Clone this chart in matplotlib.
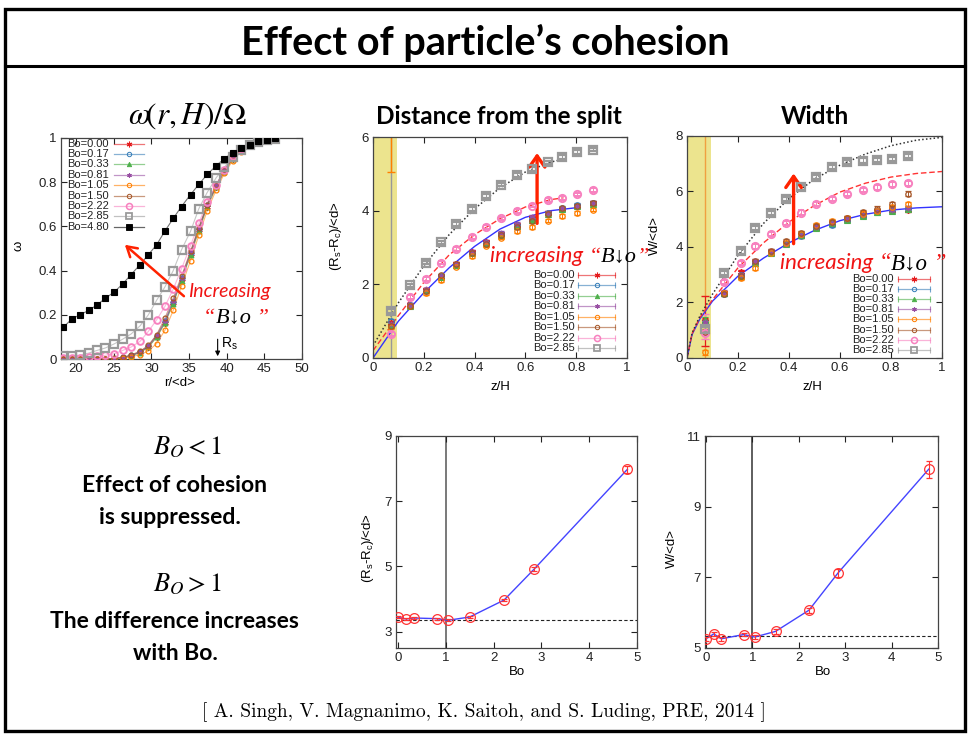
import matplotlib
matplotlib.use('Agg')
import matplotlib.pyplot as plt
from matplotlib.patches import Rectangle

W, H = 968, 735

plt.rcParams['font.family'] = ['Liberation Sans', 'DejaVu Sans']
plt.rcParams['mathtext.fontset'] = 'custom'
plt.rcParams['mathtext.rm'] = 'Liberation Sans'
plt.rcParams['mathtext.it'] = 'Liberation Sans:italic'

# ---- data ----
bo_labels = ['Bo=0.00', 'Bo=0.17', 'Bo=0.33', 'Bo=0.81', 'Bo=1.05',
             'Bo=1.50', 'Bo=2.22', 'Bo=2.85', 'Bo=4.80']

# angular velocity profile omega(r,H)/Omega
r_pos = [18.3, 19.4, 20.5, 21.7, 22.8, 23.9, 25.1, 26.2, 27.3, 28.5, 29.6, 30.7, 31.8,
         32.9, 34.0, 35.2, 36.3, 37.4, 38.6, 39.7, 40.8, 41.9, 43.1, 44.2, 45.3, 46.4]
omega_000 = [0, 0, 0, 0, 0, 0, 0.002, 0.006, 0.015, 0.03, 0.055, 0.10, 0.165,
             0.255, 0.36, 0.475, 0.585, 0.69, 0.78, 0.85, 0.905, 0.94, 0.965, 0.982, 0.992, 0.997]
omega_017 = [0, 0, 0, 0, 0, 0, 0.002, 0.007, 0.016, 0.032, 0.058, 0.105, 0.17,
             0.26, 0.365, 0.48, 0.59, 0.695, 0.785, 0.855, 0.91, 0.945, 0.968, 0.984, 0.993, 0.998]
omega_033 = [0, 0, 0, 0, 0, 0, 0.002, 0.006, 0.014, 0.029, 0.054, 0.098, 0.162,
             0.25, 0.355, 0.47, 0.58, 0.688, 0.778, 0.848, 0.905, 0.945, 0.97, 0.985, 0.994, 0.998]
omega_081 = [0, 0, 0, 0, 0, 0, 0.002, 0.007, 0.017, 0.033, 0.06, 0.107, 0.172,
             0.262, 0.368, 0.482, 0.592, 0.696, 0.786, 0.856, 0.91, 0.944, 0.967, 0.983, 0.992, 0.997]
omega_105 = [0, 0, 0, 0, 0, 0, 0.001, 0.004, 0.01, 0.02, 0.036, 0.07, 0.13,
             0.22, 0.33, 0.445, 0.56, 0.67, 0.765, 0.84, 0.898, 0.938, 0.963, 0.98, 0.99, 0.996]
omega_150 = [0, 0, 0, 0, 0, 0, 0.003, 0.008, 0.018, 0.035, 0.062, 0.11, 0.185,
             0.275, 0.375, 0.488, 0.595, 0.698, 0.787, 0.855, 0.908, 0.943, 0.966, 0.982, 0.991, 0.996]
omega_222 = [0.005, 0.005, 0.005, 0.008, 0.012, 0.017, 0.024, 0.039, 0.054, 0.08, 0.125, 0.177, 0.238,
             0.316, 0.408, 0.513, 0.614, 0.711, 0.786, 0.854, 0.917, 0.95, 0.972, 0.985, 0.992, 0.996]
omega_285 = [0.012, 0.012, 0.017, 0.027, 0.039, 0.05, 0.069, 0.09, 0.113, 0.15, 0.2, 0.266, 0.326,
             0.4, 0.494, 0.578, 0.68, 0.753, 0.82, 0.868, 0.914, 0.947, 0.97, 0.982, 0.99, 0.994]
omega_480 = [0.143, 0.18, 0.2, 0.22, 0.245, 0.275, 0.304, 0.34, 0.382, 0.427, 0.472, 0.517, 0.579,
             0.636, 0.69, 0.744, 0.79, 0.835, 0.874, 0.907, 0.934, 0.955, 0.97, 0.985, 0.99, 1.0]
omega_series = [omega_000, omega_017, omega_033, omega_081, omega_105,
                omega_150, omega_222, omega_285, omega_480]
r_s = 38.8

# distance from the split (R_s - R_c)/<d> vs z/H
z_pos = [0.072, 0.144, 0.21, 0.266, 0.328, 0.39, 0.446, 0.505, 0.568, 0.626, 0.689, 0.745, 0.804, 0.866]
dist_000 = [0.95, 1.43, 1.85, 2.2, 2.55, 2.88, 3.15, 3.38, 3.62, 3.8, 3.93, 4.05, 4.13, 4.2]
dist_017 = [1.0, 1.45, 1.83, 2.22, 2.53, 2.86, 3.12, 3.36, 3.6, 3.78, 3.95, 4.07, 4.15, 4.22]
dist_033 = [0.9, 1.42, 1.84, 2.2, 2.52, 2.84, 3.13, 3.35, 3.58, 3.76, 3.92, 4.04, 4.12, 4.18]
dist_081 = [0.92, 1.44, 1.86, 2.23, 2.56, 2.87, 3.16, 3.4, 3.64, 3.82, 3.94, 4.06, 4.14, 4.2]
dist_105 = [0.85, 1.42, 1.76, 2.12, 2.48, 2.77, 3.05, 3.27, 3.45, 3.55, 3.73, 3.85, 3.93, 4.03]
dist_150 = [0.88, 1.42, 1.83, 2.24, 2.55, 2.85, 3.1, 3.33, 3.56, 3.72, 3.92, 4.06, 4.12, 4.2]
dist_222 = [0.65, 1.65, 2.15, 2.59, 2.96, 3.29, 3.56, 3.79, 3.99, 4.14, 4.29, 4.35, 4.44, 4.56]
dist_285 = [1.28, 1.97, 2.59, 3.14, 3.63, 4.04, 4.40, 4.71, 4.96, 5.14, 5.31, 5.46, 5.6, 5.66]
dist_series = [dist_000, dist_017, dist_033, dist_081, dist_105, dist_150, dist_222, dist_285]

# fitted curves, sampled from the slide
dist_fit_z = [0, 0.1, 0.2, 0.3, 0.4, 0.5, 0.6, 0.7, 0.8]
dist_fit_low = [0, 1.0, 1.77, 2.45, 3.03, 3.5, 3.82, 4.0, 4.08]
dist_fit_z2 = [0, 0.1, 0.2, 0.3, 0.4, 0.5, 0.6, 0.7, 0.75]
dist_fit_222 = [0.2, 1.15, 2.05, 2.8, 3.35, 3.78, 4.1, 4.3, 4.35]
dist_fit_285 = [0.33, 1.5, 2.5, 3.35, 4.05, 4.62, 5.05, 5.32, 5.4]

# shear band width W/<d> vs z/H
width_000 = [1.35, 2.35, 3.1, 3.45, 3.82, 4.12, 4.42, 4.7, 4.85, 5.0, 5.15, 5.3, 5.33, 5.35]
width_017 = [1.3, 2.3, 2.98, 3.45, 3.8, 4.1, 4.4, 4.68, 4.8, 4.98, 5.12, 5.28, 5.35, 5.38]
width_033 = [1.38, 2.33, 2.95, 3.42, 3.8, 4.1, 4.45, 4.7, 4.88, 4.98, 5.12, 5.25, 5.3, 5.36]
width_081 = [1.3, 2.36, 3.0, 3.48, 3.83, 4.12, 4.43, 4.72, 4.86, 5.02, 5.15, 5.3, 5.35, 5.4]
width_105 = [0.2, 2.35, 2.9, 3.25, 3.78, 4.15, 4.48, 4.78, 4.92, 5.05, 5.2, 5.3, 5.45, 5.55]
width_150 = [0.95, 2.3, 2.95, 3.5, 3.86, 4.22, 4.5, 4.75, 4.9, 5.05, 5.25, 5.38, 5.55, 5.92]
width_222 = [0.9, 2.73, 3.42, 4.02, 4.46, 4.86, 5.24, 5.54, 5.73, 5.9, 6.06, 6.15, 6.26, 6.29]
width_285 = [1.05, 3.06, 3.84, 4.68, 5.22, 5.73, 6.15, 6.53, 6.89, 7.06, 7.11, 7.13, 7.18, 7.28]
width_series = [width_000, width_017, width_033, width_081, width_105, width_150, width_222, width_285]

width_fit_z = [0, 0.02, 0.05, 0.1, 0.2, 0.3, 0.4, 0.5, 0.6, 0.7, 0.8, 0.9, 1.0]
width_fit_low = [0, 0.85, 1.4, 2.05, 2.95, 3.6, 4.15, 4.6, 4.95, 5.18, 5.33, 5.41, 5.45]
width_fit_222 = [0, 0.88, 1.45, 2.1, 3.25, 4.15, 4.9, 5.5, 5.98, 6.3, 6.52, 6.65, 6.72]
width_fit_285 = [0, 0.9, 1.5, 2.3, 3.7, 4.85, 5.75, 6.45, 6.95, 7.35, 7.65, 7.85, 7.95]

# values at the top vs Bo
bo_values = [0.0, 0.17, 0.33, 0.81, 1.05, 1.50, 2.22, 2.85, 4.80]
dist_bo = [3.44, 3.39, 3.42, 3.40, 3.35, 3.45, 3.97, 4.92, 7.98]
dist_bo_err = [0.03, 0.03, 0.03, 0.03, 0.03, 0.03, 0.04, 0.05, 0.1]
dist_ref = 3.35
width_bo = [5.26, 5.40, 5.26, 5.38, 5.31, 5.47, 6.07, 7.13, 10.06]
width_bo_err = [0.05, 0.06, 0.05, 0.05, 0.05, 0.06, 0.07, 0.12, 0.24]
width_ref = 5.35

# ---- styles ----
red_txt = '#f01414'
styles = [
    dict(color='#e41a1c', marker=(6, 2, 0), ms=4.5, mfc='none', mew=1.0),
    dict(color='#377eb8', marker='o', ms=3.5, mfc='none', mew=0.9),
    dict(color='#4daf4a', marker='^', ms=3.5, mfc='#4daf4a', mew=0.8),
    dict(color='#984ea3', marker=(6, 2, 0), ms=3.5, mfc='none', mew=1.0),
    dict(color='#ff7f00', marker='o', ms=3.5, mfc='none', mew=0.9),
    dict(color='#a65628', marker='o', ms=3.5, mfc='none', mew=0.9),
    dict(color='#f781bf', marker='o', ms=4.8, mfc='none', mew=1.4),
    dict(color='#999999', marker='s', ms=5.2, mfc='none', mew=1.6),
    dict(color='#000000', marker='s', ms=4.5, mfc='#000000', mew=0.8),
]

fig = plt.figure(figsize=(W / 100, H / 100), dpi=100)


def px_axes(l, t, r, b):
    return fig.add_axes([l / W, 1 - b / H, (r - l) / W, (b - t) / H])


def gp_style(ax):
    ax.tick_params(direction='in', top=True, right=True, length=4, width=0.8,
                   labelsize=9.5, pad=3, colors='#222222')
    for s in ax.spines.values():
        s.set_color('#444444')
        s.set_linewidth(0.9)


def set_labels(ax, xl, xpos, yl, ypos):
    ax.set_xlabel(xl, fontsize=9.5)
    ax.xaxis.set_label_coords(*xpos)
    ax.xaxis.label.set_va('center')
    ax.set_ylabel(yl, fontsize=9.5)
    ax.yaxis.set_label_coords(*ypos)
    ax.yaxis.label.set_va('center')


# ---- panel 1: omega profile ----
ax1 = px_axes(61, 138, 302, 359)
for y, st in zip(omega_series, styles):
    ax1.plot(r_pos, y, color=st['color'], lw=0.8, alpha=0.55, zorder=2)
    ax1.plot(r_pos, y, ls='none', marker=st['marker'], ms=st['ms'], mfc=st['mfc'],
             mec=st['color'], mew=st['mew'], zorder=3)
ax1.set_xlim(18, 50)
ax1.set_ylim(0, 1)
ax1.set_xticks([20, 25, 30, 35, 40, 45, 50])
ax1.set_yticks([0, 0.2, 0.4, 0.6, 0.8, 1], ['0', '0.2', '0.4', '0.6', '0.8', '1'])
gp_style(ax1)
set_labels(ax1, 'r/<d>', (0.494, -0.109), 'ω', (-0.178, 0.51))
ax1.annotate('', xy=(r_s, 0.0), xytext=(r_s, 0.102),
             arrowprops=dict(arrowstyle='-|>', color='black', lw=0.8, mutation_scale=7))
ax1.text(r_s + 0.4, 0.07, r'R$_\mathrm{s}$', fontsize=10, va='center')
ax1.annotate('', xy=(26.2, 0.525), xytext=(34.6, 0.276),
             arrowprops=dict(arrowstyle='->,head_length=0.5,head_width=0.3',
                             color='#ff2200', lw=1.8, mutation_scale=14))

# ---- panel 2: distance from the split ----
ax2 = px_axes(373, 137, 627, 358)
ax2.axvspan(0, 0.094, color='#ece48e', zorder=0, lw=0)
ax2.axvline(z_pos[0], color='#999999', lw=1, zorder=1)
ax2.errorbar([z_pos[0]], [5.8], yerr=0.75, color='#ff7f00', capsize=3, lw=1, zorder=1)
ax2.plot(dist_fit_z, dist_fit_low, color='#3333ff', lw=1, zorder=2)
ax2.plot(dist_fit_z2, dist_fit_222, color='#ff3333', lw=1, ls=(0, (4, 2)), zorder=2)
ax2.plot(dist_fit_z2, dist_fit_285, color='#333333', lw=1.1, ls=(0, (1, 1.5)), zorder=2)
for y, st in zip(dist_series, styles[:8]):
    ax2.errorbar(z_pos, y, yerr=0.05, ls='none', ecolor=st['color'], elinewidth=0.7,
                 capsize=2, marker=st['marker'], ms=st['ms'] + 0.4, mfc=st['mfc'],
                 mec=st['color'], mew=st['mew'], zorder=3)
ax2.annotate('', xy=(0.646, 5.64), xytext=(0.646, 3.58),
             arrowprops=dict(arrowstyle='->,head_length=0.5,head_width=0.35',
                             color='#ff2200', lw=2.4, mutation_scale=16))
ax2.set_xlim(0, 1)
ax2.set_ylim(0, 6)
ax2.set_xticks([0, 0.2, 0.4, 0.6, 0.8, 1], ['0', '0.2', '0.4', '0.6', '0.8', '1'])
ax2.set_yticks([0, 2, 4, 6])
gp_style(ax2)
set_labels(ax2, 'z/H', (0.5, -0.131), r'(R$_\mathrm{s}$-R$_\mathrm{c}$)/<d>', (-0.146, 0.55))

# ---- panel 3: width ----
ax3 = px_axes(687, 136, 942, 358)
ax3.axvspan(0, 0.094, color='#ece48e', zorder=0, lw=0)
ax3.axvline(z_pos[0], color='#f0a040', lw=1, zorder=1)
ax3.errorbar([z_pos[0]], [1.35], yerr=0.9, ls='none', color='#e41a1c', capsize=3, lw=0.8, zorder=1)
ax3.errorbar([z_pos[0]], [1.15], yerr=0.45, ls='none', color='#f781bf', capsize=3, lw=0.8, zorder=1)
ax3.plot(width_fit_z, width_fit_low, color='#3333ff', lw=1, zorder=2)
ax3.plot(width_fit_z, width_fit_222, color='#ff3333', lw=1, ls=(0, (4, 2)), zorder=2)
ax3.plot(width_fit_z, width_fit_285, color='#333333', lw=1.1, ls=(0, (1, 1.5)), zorder=2)
for y, st in zip(width_series, styles[:8]):
    ax3.errorbar(z_pos, y, yerr=0.08, ls='none', ecolor=st['color'], elinewidth=0.7,
                 capsize=2, marker=st['marker'], ms=st['ms'] + 0.4, mfc=st['mfc'],
                 mec=st['color'], mew=st['mew'], zorder=3)
ax3.annotate('', xy=(0.418, 6.75), xytext=(0.418, 4.02),
             arrowprops=dict(arrowstyle='->,head_length=0.5,head_width=0.35',
                             color='#ff2200', lw=2.4, mutation_scale=16))
ax3.set_xlim(0, 1)
ax3.set_ylim(0, 8)
ax3.set_xticks([0, 0.2, 0.4, 0.6, 0.8, 1], ['0', '0.2', '0.4', '0.6', '0.8', '1'])
ax3.set_yticks([0, 2, 4, 6, 8])
gp_style(ax3)
set_labels(ax3, 'z/H', (0.49, -0.131), 'W/<d>', (-0.125, 0.55))

# ---- panel 4: distance vs Bo ----
ax4 = px_axes(396, 436, 637, 648)
ax4.axvline(1, color='#555555', lw=1.1, zorder=1)
ax4.axhline(dist_ref, color='#222222', lw=0.8, ls=(0, (3, 2)), zorder=1)
ax4.plot(bo_values, dist_bo, color='#4444ff', lw=1, zorder=2)
ax4.errorbar(bo_values, dist_bo, yerr=dist_bo_err, ls='none', marker='o', ms=7,
             mfc='none', mec='#ff3333', ecolor='#ff3333', mew=0.9, capsize=2.5, elinewidth=0.8, zorder=3)
ax4.set_xlim(-0.04, 5)
ax4.set_ylim(2.5, 9)
ax4.set_xticks([0, 1, 2, 3, 4, 5])
ax4.set_yticks([3, 5, 7, 9])
gp_style(ax4)
set_labels(ax4, 'Bo', (0.5, -0.112), r'(R$_\mathrm{s}$-R$_\mathrm{c}$)/<d>', (-0.116, 0.47))

# ---- panel 5: width vs Bo ----
ax5 = px_axes(705, 436, 938, 648)
ax5.axvline(1, color='#333333', lw=1.1, zorder=1)
ax5.axhline(width_ref, color='#222222', lw=0.8, ls=(0, (3, 2)), zorder=1)
ax5.plot(bo_values, width_bo, color='#4444ff', lw=1, zorder=2)
ax5.errorbar(bo_values, width_bo, yerr=width_bo_err, ls='none', marker='o', ms=7,
             mfc='none', mec='#ff3333', ecolor='#ff3333', mew=0.9, capsize=2.5, elinewidth=0.8, zorder=3)
ax5.set_xlim(-0.02, 5)
ax5.set_ylim(5, 11)
ax5.set_xticks([0, 1, 2, 3, 4, 5])
ax5.set_yticks([5, 7, 9, 11])
gp_style(ax5)
set_labels(ax5, 'Bo', (0.506, -0.112), 'W/<d>', (-0.142, 0.47))

# ---- slide layer in pixel coordinates (on top) ----
ax_bg = fig.add_axes([0, 0, 1, 1])
ax_bg.set_zorder(10)
ax_bg.patch.set_visible(False)
ax_bg.set_xlim(0, W)
ax_bg.set_ylim(H, 0)
ax_bg.axis('off')

ax_bg.add_patch(Rectangle((4.5, 9), 960, 722, fill=False, lw=2.4, ec='black'))
ax_bg.plot([4.5, 964.5], [65.5, 65.5], color='black', lw=2.2)

ax_bg.text(485, 43, 'Effect of particle’s cohesion', ha='center', va='center',
           fontsize=28.5, fontweight='bold', family='Lato')
ax_bg.text(499, 116, 'Distance from the split', ha='center', va='center',
           fontsize=17.5, fontweight='bold', family='Lato')
ax_bg.text(815, 116, 'Width', ha='center', va='center',
           fontsize=17.5, fontweight='bold', family='Lato')
ax_bg.text(187, 116, r'$\omega\!\left(r,H\right)/\Omega$', ha='center', va='center',
           fontsize=22.5, math_fontfamily='stix')

ax_bg.text(187, 454, r'$B_O < 1$', ha='center', va='baseline', fontsize=19, math_fontfamily='stix')
ax_bg.text(174, 485, 'Effect of cohesion', ha='center', va='center',
           fontsize=16.5, fontweight='bold', family='Lato')
ax_bg.text(170, 517, 'is suppressed.', ha='center', va='center',
           fontsize=16.5, fontweight='bold', family='Lato')
ax_bg.text(187, 591, r'$B_O > 1$', ha='center', va='baseline', fontsize=19, math_fontfamily='stix')
ax_bg.text(174, 621, 'The difference increases', ha='center', va='center',
           fontsize=16.5, fontweight='bold', family='Lato')
ax_bg.text(175, 653, 'with Bo.', ha='center', va='center',
           fontsize=16.5, fontweight='bold', family='Lato')

ax_bg.text(484, 712, '[ A. Singh, V. Magnanimo, K. Saitoh, and S. Luding, PRE, 2014 ]',
           ha='center', va='center', fontsize=14, family='cmr10')

serif = ['Liberation Serif', 'DejaVu Serif']


def chain(x, y, pieces):
    prev = None
    for s, color, kw in pieces:
        if prev is None:
            prev = ax_bg.text(x, y, s, color=color, ha='left', va='baseline', **kw)
        else:
            prev = ax_bg.annotate(s, xy=(1, y), xycoords=(prev, 'data'), color=color,
                                  ha='left', va='baseline', **kw)


def inc_label(x, y, word, size, bsize, close=' ”', two_lines=False, x2=None, y2=None):
    word_kw = dict(fontsize=size, style='italic', family='Lato')
    b_kw = dict(fontsize=bsize, style='italic', family=serif)
    if two_lines:
        chain(x, y, [(word, red_txt, word_kw)])
        chain(x2, y2, [('“', red_txt, b_kw), ('B↓o', 'black', b_kw), (close, red_txt, b_kw)])
    else:
        chain(x, y, [(word + ' ', red_txt, word_kw), ('“', red_txt, b_kw),
                     ('B↓o', 'black', b_kw), (close, red_txt, b_kw)])


inc_label(188, 297, 'Increasing', 14, 16, two_lines=True, x2=203, y2=323)
inc_label(490, 262, 'increasing', 16, 16, close='”')
inc_label(780, 269, 'increasing', 16, 16.5)


def draw_key(labels, sty, x_text, x0, x1, y0, dy, caps):
    for i, (lab, st) in enumerate(zip(labels, sty)):
        y = y0 + i * dy
        ax_bg.text(x_text, y, lab, ha='right', va='center', fontsize=8, color='#222222')
        ax_bg.plot([x0, x1], [y, y], color=st['color'], lw=0.9, alpha=0.6)
        if caps:
            ax_bg.plot([x0, x1], [y, y], ls='none', marker='|', ms=5, mew=0.8,
                       color=st['color'], alpha=0.7)
        ax_bg.plot([(x0 + x1) / 2], [y], marker=st['marker'], ms=st['ms'] * 0.9,
                   mfc=st['mfc'], mec=st['color'], mew=st['mew'] * 0.8)


draw_key(bo_labels, styles, 108.5, 114, 144, 143.5, 10.42, False)
draw_key(bo_labels[:8], styles[:8], 574.5, 578, 615, 275, 10.48, True)
draw_key(bo_labels[:8], styles[:8], 894, 897.5, 929.5, 279, 10.1, True)

fig.savefig('out.png', dpi=100)
